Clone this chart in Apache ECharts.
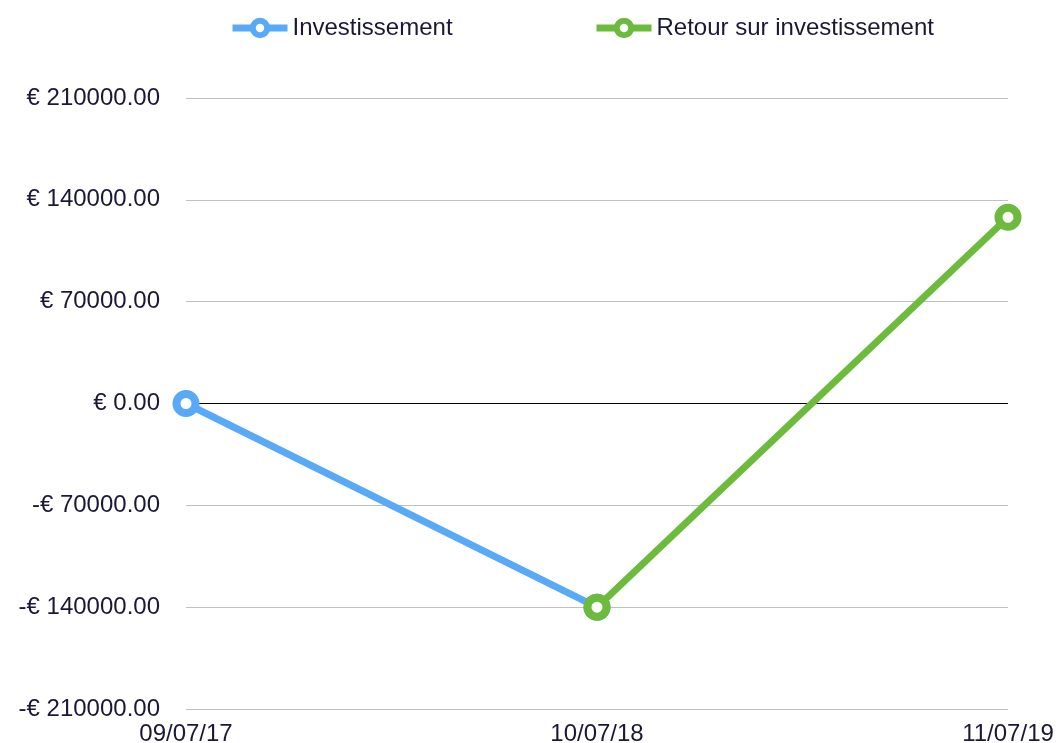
<!DOCTYPE html>
<html>
<head>
<meta charset="utf-8">
<script src="https://cdn.jsdelivr.net/npm/echarts@6/dist/echarts.min.js"></script>
<style>html,body{margin:0;padding:0;background:#fff;}#c{width:1064px;height:743px;}</style>
</head>
<body>
<div id="c"></div>
<script>
var categories = ['09/07/17', '10/07/18', '11/07/19'];
var investissement = [0, -140000, null];
var retour = [null, -140000, 128000];
var seriesNames = ['Investissement', 'Retour sur investissement'];

var font = 'Liberation Sans, Arial, sans-serif';
var textColor = '#1a1836';
var legendBase = {
  top: 11, itemWidth: 55, itemHeight: 18, itemGap: 5,
  lineStyle: { width: 7 },
  itemStyle: { borderWidth: 6 },
  textStyle: { fontFamily: font, fontSize: 24, color: textColor }
};
var chart = echarts.init(document.getElementById('c'));
chart.setOption({
  animation: false,
  backgroundColor: '#ffffff',
  legend: [
    Object.assign({ data: [seriesNames[0]], left: 224 }, legendBase),
    Object.assign({ data: [seriesNames[1]], left: 588 }, legendBase)
  ],
  grid: { left: 186, right: 56, top: 98, bottom: 34, containLabel: false, outerBoundsMode: 'none' },
  xAxis: {
    type: 'category', data: categories, boundaryGap: false,
    axisLine: { show: false }, axisTick: { show: false },
    axisLabel: { fontFamily: font, fontSize: 24, color: textColor, margin: 13 },
    splitLine: { show: false }
  },
  yAxis: {
    type: 'value', min: -210000, max: 210000, interval: 70000,
    axisLine: { show: false }, axisTick: { show: false },
    axisLabel: {
      fontFamily: font, fontSize: 24, color: textColor, margin: 26,
      formatter: function (v) {
        return (v < 0 ? '-€ ' : '€ ') + Math.abs(v).toFixed(2);
      }
    },
    splitLine: { lineStyle: { color: ['#c0c0c0','#c0c0c0','#c0c0c0','#000000','#c0c0c0','#c0c0c0','#c0c0c0'], width: 1 } }
  },
  series: [
    { name: seriesNames[0], type: 'line', data: investissement, color: '#58a9f7',
      lineStyle: { width: 7, color: '#58a9f7' }, symbol: 'circle', symbolSize: 19,
      itemStyle: { color: '#ffffff', borderColor: '#58a9f7', borderWidth: 8 }, z: 2 },
    { name: seriesNames[1], type: 'line', data: retour, color: '#6cbb3c',
      lineStyle: { width: 7, color: '#6cbb3c' }, symbol: 'circle', symbolSize: 19,
      itemStyle: { color: '#ffffff', borderColor: '#6cbb3c', borderWidth: 8 }, z: 3 }
  ]
});
</script>
</body>
</html>
